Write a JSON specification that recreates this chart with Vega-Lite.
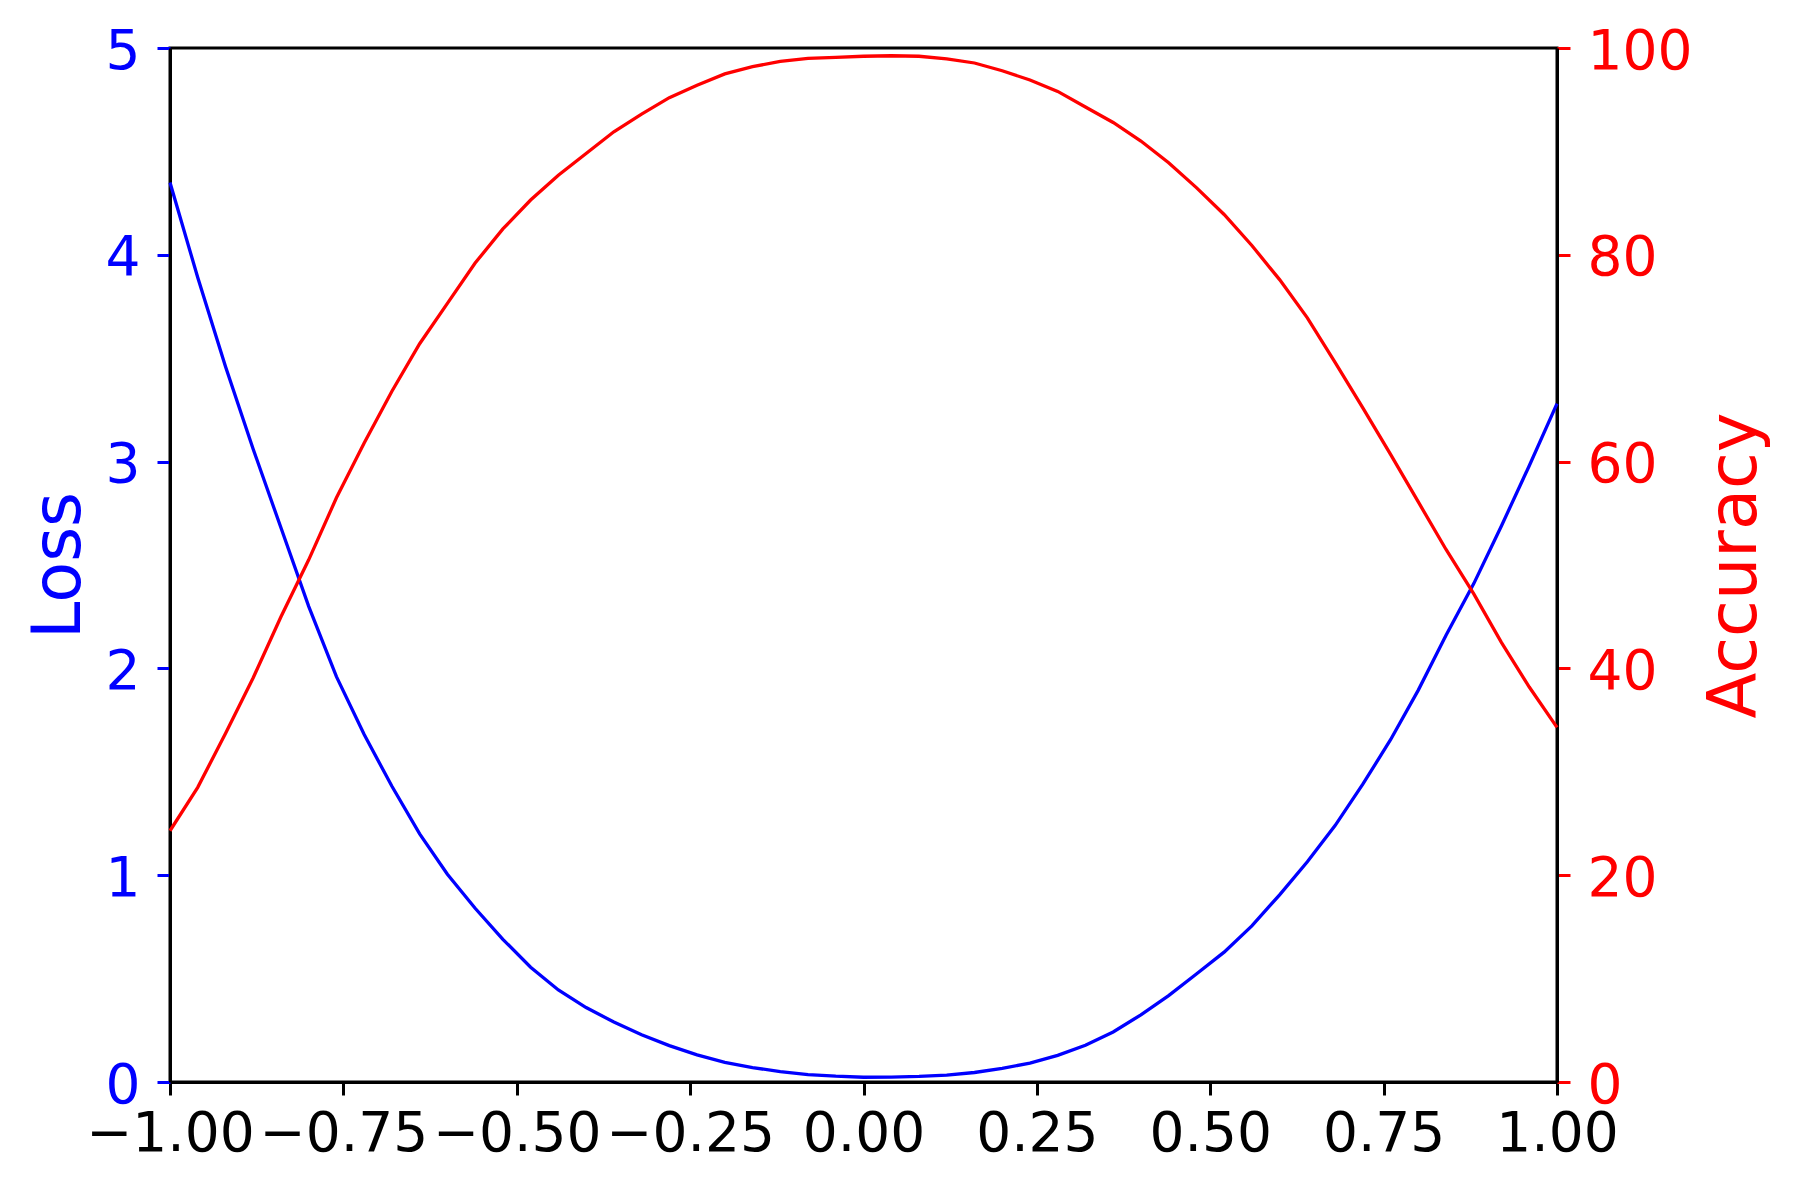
{
  "$schema": "https://vega.github.io/schema/vega-lite/v6.json",
  "width": 1387,
  "height": 1034,
  "autosize": "none",
  "padding": {"left": 170, "top": 48, "right": 242, "bottom": 109},
  "background": "white",
  "config": {
    "view": {"stroke": "#000000", "strokeWidth": 3},
    "axis": {
      "grid": false,
      "labelFont": "DejaVu Sans",
      "titleFont": "DejaVu Sans",
      "labelFontSize": 55,
      "titleFontSize": 67,
      "titleFontWeight": "normal",
      "tickSize": 13,
      "tickWidth": 3,
      "domainWidth": 3,
      "domainColor": "#000000",
      "labelOverlap": false,
      "labelFlush": false,
      "labelBound": false
    }
  },
  "datasets": {
    "loss": [
      {"x": -1.00, "loss": 4.35}, {"x": -0.96, "loss": 3.89}, {"x": -0.92, "loss": 3.46}, {"x": -0.88, "loss": 3.06},
      {"x": -0.84, "loss": 2.68}, {"x": -0.80, "loss": 2.30}, {"x": -0.76, "loss": 1.96}, {"x": -0.72, "loss": 1.68},
      {"x": -0.68, "loss": 1.43}, {"x": -0.64, "loss": 1.20}, {"x": -0.60, "loss": 1.005}, {"x": -0.56, "loss": 0.84},
      {"x": -0.52, "loss": 0.69}, {"x": -0.48, "loss": 0.555}, {"x": -0.44, "loss": 0.445}, {"x": -0.40, "loss": 0.36},
      {"x": -0.36, "loss": 0.29}, {"x": -0.32, "loss": 0.228}, {"x": -0.28, "loss": 0.176}, {"x": -0.24, "loss": 0.131},
      {"x": -0.20, "loss": 0.095}, {"x": -0.16, "loss": 0.07}, {"x": -0.12, "loss": 0.05}, {"x": -0.08, "loss": 0.036},
      {"x": -0.04, "loss": 0.028}, {"x": 0.00, "loss": 0.023}, {"x": 0.04, "loss": 0.024}, {"x": 0.08, "loss": 0.027},
      {"x": 0.12, "loss": 0.033}, {"x": 0.16, "loss": 0.046}, {"x": 0.20, "loss": 0.066}, {"x": 0.24, "loss": 0.091},
      {"x": 0.28, "loss": 0.129}, {"x": 0.32, "loss": 0.178}, {"x": 0.36, "loss": 0.242}, {"x": 0.40, "loss": 0.325},
      {"x": 0.44, "loss": 0.418}, {"x": 0.48, "loss": 0.522}, {"x": 0.52, "loss": 0.628}, {"x": 0.56, "loss": 0.755},
      {"x": 0.60, "loss": 0.905}, {"x": 0.64, "loss": 1.065}, {"x": 0.68, "loss": 1.24}, {"x": 0.72, "loss": 1.44},
      {"x": 0.76, "loss": 1.655}, {"x": 0.80, "loss": 1.895}, {"x": 0.84, "loss": 2.16}, {"x": 0.88, "loss": 2.41},
      {"x": 0.92, "loss": 2.69}, {"x": 0.96, "loss": 2.98}, {"x": 1.00, "loss": 3.28}
    ],
    "acc": [
      {"x": -1.00, "acc": 24.3}, {"x": -0.96, "acc": 28.5}, {"x": -0.92, "acc": 33.7}, {"x": -0.88, "acc": 39.1},
      {"x": -0.84, "acc": 45.0}, {"x": -0.80, "acc": 50.5}, {"x": -0.76, "acc": 56.5}, {"x": -0.72, "acc": 61.8},
      {"x": -0.68, "acc": 66.8}, {"x": -0.64, "acc": 71.4}, {"x": -0.60, "acc": 75.3}, {"x": -0.56, "acc": 79.2},
      {"x": -0.52, "acc": 82.5}, {"x": -0.48, "acc": 85.3}, {"x": -0.44, "acc": 87.7}, {"x": -0.40, "acc": 89.8},
      {"x": -0.36, "acc": 91.9}, {"x": -0.32, "acc": 93.6}, {"x": -0.28, "acc": 95.2}, {"x": -0.24, "acc": 96.4},
      {"x": -0.20, "acc": 97.5}, {"x": -0.16, "acc": 98.2}, {"x": -0.12, "acc": 98.7}, {"x": -0.08, "acc": 99.0},
      {"x": -0.04, "acc": 99.1}, {"x": 0.00, "acc": 99.2}, {"x": 0.04, "acc": 99.25}, {"x": 0.08, "acc": 99.2},
      {"x": 0.12, "acc": 98.95}, {"x": 0.16, "acc": 98.55}, {"x": 0.20, "acc": 97.8}, {"x": 0.24, "acc": 96.9},
      {"x": 0.28, "acc": 95.8}, {"x": 0.32, "acc": 94.3}, {"x": 0.36, "acc": 92.8}, {"x": 0.40, "acc": 91.0},
      {"x": 0.44, "acc": 88.9}, {"x": 0.48, "acc": 86.5}, {"x": 0.52, "acc": 83.9}, {"x": 0.56, "acc": 80.9},
      {"x": 0.60, "acc": 77.6}, {"x": 0.64, "acc": 73.9}, {"x": 0.68, "acc": 69.6}, {"x": 0.72, "acc": 65.2},
      {"x": 0.76, "acc": 60.7}, {"x": 0.80, "acc": 56.1}, {"x": 0.84, "acc": 51.5}, {"x": 0.88, "acc": 47.2},
      {"x": 0.92, "acc": 42.5}, {"x": 0.96, "acc": 38.2}, {"x": 1.00, "acc": 34.3}
    ]
  },
  "layer": [
    {
      "data": {"name": "loss"},
      "mark": {"type": "line", "color": "#0000ff", "strokeWidth": 3.3},
      "encoding": {
        "x": {
          "field": "x", "type": "quantitative",
          "scale": {"domain": [-1, 1], "nice": false, "zero": false},
          "axis": {
            "title": null, "values": [-1, -0.75, -0.5, -0.25, 0, 0.25, 0.5, 0.75, 1], "format": ".2f",
            "labelColor": "#000000", "tickColor": "#000000", "labelPadding": 12
          }
        },
        "y": {
          "field": "loss", "type": "quantitative",
          "scale": {"domain": [0, 5], "nice": false, "zero": true},
          "axis": {
            "orient": "left", "title": "Loss", "values": [0, 1, 2, 3, 4, 5], "format": "d",
            "labelColor": "#0000ff", "tickColor": "#0000ff", "titleColor": "#0000ff",
            "labelPadding": 17, "labelOffset": 3, "titleAngle": 270, "titleBaseline": "alphabetic", "titlePadding": 26
          }
        }
      }
    },
    {
      "data": {"name": "acc"},
      "mark": {"type": "line", "color": "#ff0000", "strokeWidth": 3.3},
      "encoding": {
        "x": {"field": "x", "type": "quantitative", "scale": {"domain": [-1, 1], "nice": false, "zero": false}},
        "y": {
          "field": "acc", "type": "quantitative",
          "scale": {"domain": [0, 100], "nice": false, "zero": true},
          "axis": {
            "orient": "right", "title": "Accuracy", "values": [0, 20, 40, 60, 80, 100], "format": "d",
            "labelColor": "#ff0000", "tickColor": "#ff0000", "titleColor": "#ff0000",
            "labelPadding": 17, "labelOffset": 3, "titleAngle": 270, "titleBaseline": "top", "titlePadding": 11
          }
        }
      }
    }
  ],
  "resolve": {"scale": {"y": "independent"}, "axis": {"y": "independent"}}
}
